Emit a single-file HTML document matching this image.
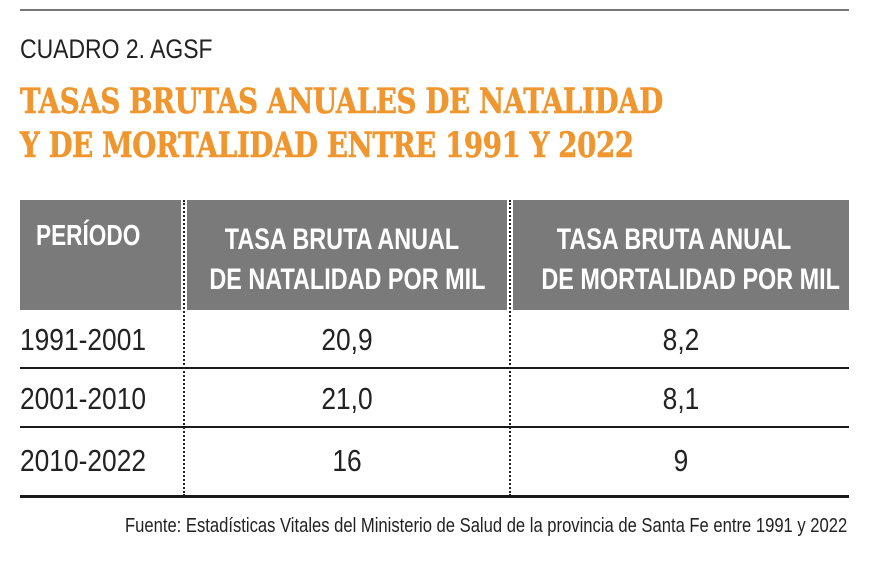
<!DOCTYPE html>
<html><head><meta charset="utf-8"><style>
body{margin:0;width:870px;height:580px;background:#fff;position:relative;overflow:hidden;font-family:"Liberation Sans",sans-serif}
.a{position:absolute;white-space:nowrap;transform-origin:0 0}
.hl{position:absolute;background:#1a1a1a}
.c{position:absolute;text-align:center;white-space:nowrap;transform-origin:50% 0}
</style></head><body>
<div class="hl" style="left:20px;top:9px;width:829px;height:2px;background:#777"></div>
<div class="a" style="left:20px;top:34px;font-size:27px;color:#222;transform:scaleX(0.85)">CUADRO 2. AGSF</div>
<div class="a" style="left:20px;top:80px;font-size:35px;font-weight:bold;color:#F0962E;font-family:'DejaVu Serif',serif;transform:scaleX(0.79);line-height:44px;letter-spacing:-0.5px;-webkit-text-stroke:0.6px #F0962E">TASAS BRUTAS ANUALES DE NATALIDAD<br>Y DE MORTALIDAD ENTRE 1991 Y 2022</div>
<div style="position:absolute;left:20px;top:200px;width:829px;height:110px;background:#7a7a7a"></div>
<div style="position:absolute;left:181px;top:200px;width:6px;height:296px;background:#fff"></div>
<div style="position:absolute;left:507px;top:200px;width:6px;height:296px;background:#fff"></div>
<div style="position:absolute;left:183px;top:200px;width:0;height:296px;border-left:2px dotted #222"></div>
<div style="position:absolute;left:509px;top:200px;width:0;height:296px;border-left:2px dotted #222"></div>
<div class="a" style="left:36px;top:220px;font-size:29px;font-weight:bold;color:#fff;transform:scaleX(0.78)">PERÍODO</div>
<div class="c" style="left:172px;top:220px;width:340px;font-size:30px;font-weight:bold;color:#fff;line-height:40px;transform:scaleX(0.78)">TASA BRUTA ANUAL<br>DE NATALIDAD POR MIL</div>
<div class="c" style="left:504px;top:220px;width:340px;font-size:30px;font-weight:bold;color:#fff;line-height:40px;transform:scaleX(0.78)">TASA BRUTA ANUAL<br>DE MORTALIDAD POR MIL</div>
<div class="hl" style="left:20px;top:367px;width:829px;height:2px"></div>
<div class="hl" style="left:20px;top:426px;width:829px;height:2px"></div>
<div class="hl" style="left:20px;top:495px;width:829px;height:3px"></div>
<div class="a" style="left:20px;top:322px;font-size:31px;color:#222;transform:scaleX(0.85)">1991-2001</div>
<div class="a" style="left:20px;top:381px;font-size:31px;color:#222;transform:scaleX(0.85)">2001-2010</div>
<div class="a" style="left:20px;top:443px;font-size:31px;color:#222;transform:scaleX(0.85)">2010-2022</div>
<div class="c" style="left:187px;top:322px;width:320px;font-size:31px;color:#222;transform:scaleX(0.85)">20,9</div>
<div class="c" style="left:187px;top:381px;width:320px;font-size:31px;color:#222;transform:scaleX(0.85)">21,0</div>
<div class="c" style="left:187px;top:443px;width:320px;font-size:31px;color:#222;transform:scaleX(0.85)">16</div>
<div class="c" style="left:513px;top:322px;width:336px;font-size:31px;color:#222;transform:scaleX(0.85)">8,2</div>
<div class="c" style="left:513px;top:381px;width:336px;font-size:31px;color:#222;transform:scaleX(0.85)">8,1</div>
<div class="c" style="left:513px;top:443px;width:336px;font-size:31px;color:#222;transform:scaleX(0.85)">9</div>
<div class="a" style="left:125px;top:515px;font-size:20px;color:#222;transform:scaleX(0.83)">Fuente: Estadísticas Vitales del Ministerio de Salud de la provincia de Santa Fe entre 1991 y 2022</div>
</body></html>
